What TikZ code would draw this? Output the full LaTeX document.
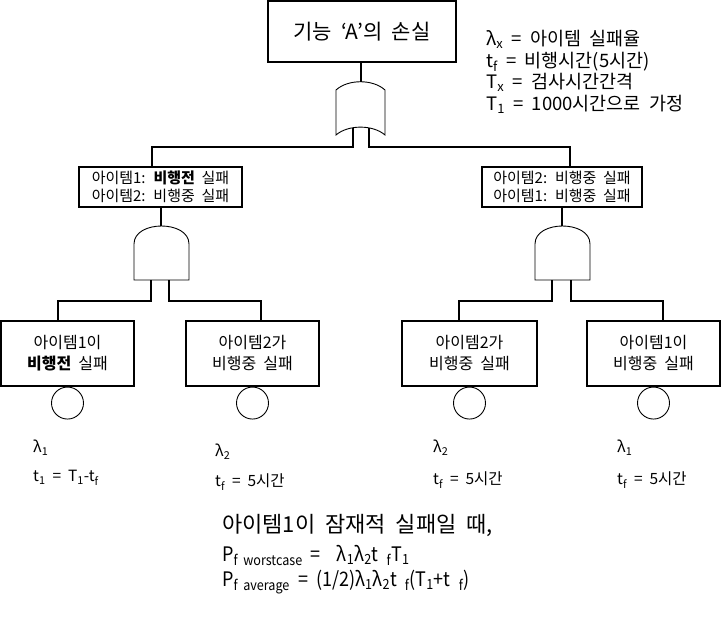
\documentclass[tikz,border=0pt]{standalone}
\usepackage{fontspec}
\setmainfont[WordSpace=2]{Noto Sans CJK KR}
\newfontfamily\narrowfont[FakeStretch=0.9,WordSpace=2]{Noto Sans CJK KR}
\tikzset{
  box/.style={draw,line width=1.2pt,inner sep=0pt,align=center,font=\fontsize{16}{21}\selectfont},
  midbox/.style={box,minimum height=40pt,font=\fontsize{15}{18}\selectfont},
  wire/.style={line width=2pt},
  gate/.style={draw,line width=0.9pt,fill=white},
  basic/.style={draw,circle,line width=0.9pt,minimum size=32pt,inner sep=0pt},
  lbl/.style={anchor=west,inner sep=0pt,font=\fontsize{15.5}{18}\selectfont},
  note/.style={anchor=base west,inner sep=0pt,font=\narrowfont\fontsize{20}{24}\selectfont}
}
\begin{document}
\begin{tikzpicture}[x=1pt,y=-1pt]
		\useasboundingbox (0,0) rectangle (721,624);
		\node[box,minimum width=188pt,minimum height=61pt,font=\fontsize{21}{24}\selectfont] (top) at (362,31.5) {기능 `A'의 손실};
		\node[anchor=west,inner sep=0pt,align=left,font=\fontsize{18.5}{21.7}\selectfont] (legend) at (486,72) {λ\textsubscript{x} = 아이템 실패율\\t\textsubscript{f} = 비행시간(5시간)\\T\textsubscript{x} = 검사시간간격\\T\textsubscript{1} = 1000시간으로 가정};
		\draw[gate] (336,135) -- (336,90) .. controls (348,79) and (373,79) .. (385,90) -- (385,135) .. controls (373,124.5) and (348,124.5) .. cycle;
		\coordinate (orin) at (361,82);
		\coordinate (orL) at (353,128);
		\coordinate (orR) at (369,128);
		\coordinate (bus1) at (0,147);
		\node[midbox,minimum width=163pt] (midL) at (160.5,187) {아이템1: \textbf{비행전} 실패\\아이템2: 비행중 실패};
		\node[midbox,minimum width=160pt] (midR) at (562,187) {아이템2: 비행중 실패\\아이템1: 비행중 실패};
		\draw[wire] (orin |- top.south) -- (orin);
		\draw[wire] (orL) -- (orL |- bus1) -| ([xshift=-8.5pt]midL.north);
		\draw[wire] (orR) -- (orR |- bus1) -| ([xshift=8pt]midR.north);
		\draw[gate] (134,280) -- (134,244) .. controls (134,220) and (189,220) .. (189,244) -- (189,280) -- cycle;
		\draw[gate] (535,280) -- (535,244) .. controls (535,220) and (590,220) .. (590,244) -- (590,280) -- cycle;
		\coordinate (andLin) at (160.5,226);
		\coordinate (andRin) at (561.5,226);
		\coordinate (andL1) at (151,280);
		\coordinate (andL2) at (169,280);
		\coordinate (andR1) at (552,280);
		\coordinate (andR2) at (571,280);
		\coordinate (bus2) at (0,301);
		\draw[wire] (midL.south) -- (andLin);
		\draw[wire] (andRin |- midR.south) -- (andRin);
		\node[box,minimum width=133pt,minimum height=65pt] (b1) at (67.5,353.5) {아이템1이\\\textbf{비행전} 실패};
		\node[box,minimum width=133pt,minimum height=65pt] (b2) at (252.5,353.5) {아이템2가\\비행중 실패};
		\node[box,minimum width=135pt,minimum height=65pt] (b3) at (469.5,353.5) {아이템2가\\비행중 실패};
		\node[box,minimum width=133pt,minimum height=65pt] (b4) at (653.5,353.5) {아이템1이\\비행중 실패};
		\draw[wire] (andL1) -- (andL1 |- bus2) -| ([xshift=-9.5pt]b1.north);
		\draw[wire] (andL2) -- (andL2 |- bus2) -| ([xshift=8.5pt]b2.north);
		\draw[wire] (andR1) -- (andR1 |- bus2) -| ([xshift=-10.5pt]b3.north);
		\draw[wire] (andR2) -- (andR2 |- bus2) -| ([xshift=9.5pt]b4.north);
		\node[basic,anchor=north] (e1) at (b1.south) {};
		\node[basic,anchor=north] (e2) at (b2.south) {};
		\node[basic,anchor=north] (e3) at (b3.south) {};
		\node[basic,anchor=north] (e4) at (b4.south) {};
		\node[lbl] (lam1) at (33,448) {λ\textsubscript{1}};
		\node[lbl] (t1) at (33,478) {t\textsubscript{1} = T\textsubscript{1}-t\textsubscript{f}};
		\node[lbl] (lam2) at (215,452) {λ\textsubscript{2}};
		\node[lbl] (t2) at (215,482) {t\textsubscript{f} = 5시간};
		\node[lbl] (lam3) at (433,448) {λ\textsubscript{2}};
		\node[lbl] (t3) at (433,480) {t\textsubscript{f} = 5시간};
		\node[lbl] (lam4) at (617,448) {λ\textsubscript{1}};
		\node[lbl] (t4) at (617,480) {t\textsubscript{f} = 5시간};
		\node[note,font=\fontsize{22}{26}\selectfont] (note1) at (222,532) {아이템1이 잠재적 실패일 때,};
		\node[note] (note2) at (222,561) {P\textsubscript{f worstcase} = \ λ\textsubscript{1}λ\textsubscript{2}t \textsubscript{f}T\textsubscript{1}};
		\node[note] (note3) at (222,586) {P\textsubscript{f average} = (1/2)λ\textsubscript{1}λ\textsubscript{2}t \textsubscript{f}(T\textsubscript{1}+t \textsubscript{f})};
	\end{tikzpicture}
\end{document}
